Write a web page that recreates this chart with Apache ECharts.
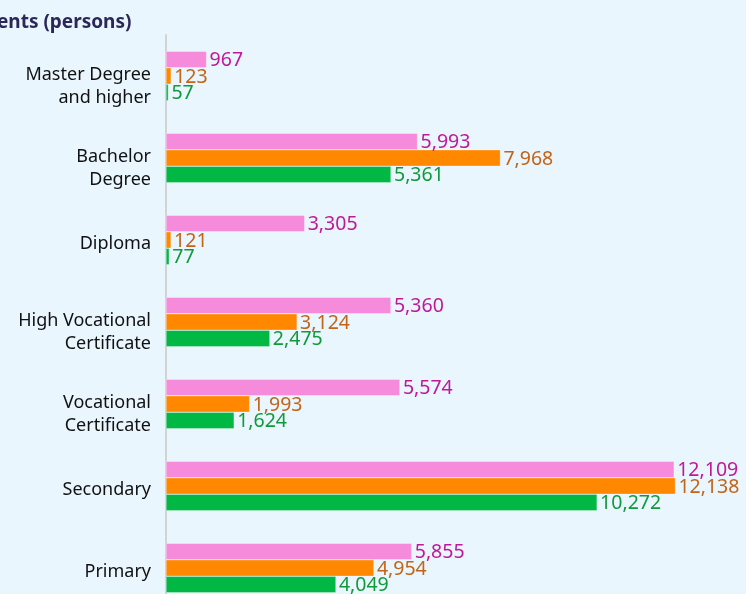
<!DOCTYPE html>
<html>
<head>
<meta charset="utf-8">
<script src="https://cdn.jsdelivr.net/npm/echarts@6/dist/echarts.min.js"></script>
<style>
  html, body { margin: 0; padding: 0; background: #eaf6fd; overflow: hidden; }
  #chart { width: 746px; height: 610px; }
</style>
</head>
<body>
<div id="chart"></div>
<script>
var chart = echarts.init(document.getElementById('chart'));

var categories = ['Master Degree\nand higher', 'Bachelor\nDegree', 'Diploma',
  'High Vocational\nCertificate', 'Vocational\nCertificate', 'Secondary', 'Primary'];

var pinkValues = [967, 5993, 3305, 5360, 5574, 12109, 5855];
var orangeValues = [123, 7968, 121, 3124, 1993, 12138, 4954];
var greenValues = [57, 5361, 77, 2475, 1624, 10272, 4049];

var fontName = '"Noto Sans", sans-serif';

function makeSeries(name, data, barColor, textColor) {
  return {
    name: name,
    type: 'bar',
    data: data,
    barWidth: 16.5,
    barGap: '0%',
    itemStyle: { color: barColor, borderColor: 'rgba(255,255,255,0.6)', borderWidth: 0.5 },
    label: {
      show: true,
      position: 'right',
      distance: 3,
      offset: [0, 1],
      color: textColor,
      fontSize: 19.5,
      fontFamily: fontName,
      formatter: function (p) { return p.value.toLocaleString('en-US'); }
    },
    emphasis: { disabled: true }
  };
}

var option = {
  backgroundColor: '#eaf6fd',
  animation: false,
  title: {
    text: 'ents (persons)',
    left: -8,
    top: 8,
    textStyle: { color: '#2b2758', fontSize: 19, fontWeight: 'bold', fontFamily: fontName }
  },
  // the picture is cut off at the bottom, so the chart runs past the window
  grid: { left: 166, right: 0, top: 35, bottom: 1, containLabel: false },
  xAxis: {
    type: 'value',
    min: 0,
    max: 13820,
    show: false
  },
  yAxis: {
    type: 'category',
    data: categories,
    inverse: true,
    axisLine: { show: true, lineStyle: { color: '#d3d3d3', width: 2 } },
    axisTick: { show: false },
    axisLabel: {
      margin: 15,
      align: 'right',
      // an empty spacer line on top pushes the labels down a little, more for two-line ones
      formatter: function (value) {
        var lines = value.split('\n');
        var spacer = lines.length > 1 ? '{s2| }' : '{s1| }';
        return spacer + '\n' + lines.map(function (l) { return '{t|' + l + '}'; }).join('\n');
      },
      rich: {
        s1: { fontSize: 1, lineHeight: 7 },
        s2: { fontSize: 1, lineHeight: 20 },
        t: { color: '#111', fontSize: 18, lineHeight: 23, fontFamily: fontName }
      }
    }
  },
  series: [
    makeSeries('pink', pinkValues, '#f78bdb', '#c0189a'),
    makeSeries('orange', orangeValues, '#ff8800', '#c0651a'),
    makeSeries('green', greenValues, '#00b843', '#12993c')
  ]
};

chart.setOption(option);
</script>
</body>
</html>
